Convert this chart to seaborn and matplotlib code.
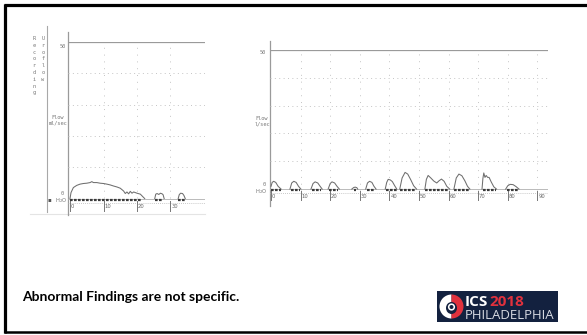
import numpy as np
import pandas as pd
import matplotlib
matplotlib.use('Agg')
import matplotlib.pyplot as plt
import seaborn as sns
from matplotlib.patches import Rectangle, Wedge, Circle, Ellipse

#%% Data

# left trace: one long void followed by two small dribbles (t in s, flow in ml/s)
left_t = [0, 0.3, 1, 2, 3, 4, 5, 6, 6.5, 7, 8, 9, 10, 11, 12, 13, 14, 15, 16,
          16.5, 17, 17.5, 18, 18.5, 19, 20, 21, 22, 22.3,
          25.3, 25.6, 26, 26.5, 27, 27.5, 27.8, 28.1,
          32.3, 32.6, 33, 33.6, 34, 34.4]
left_flow = [0, 1.9, 3.5, 4.2, 4.6, 4.8, 4.9, 5.1, 5.4, 5.1, 5.1, 4.9, 4.8, 4.6, 4.35, 4.0, 3.7, 3.3, 2.4,
             1.6, 2.1, 1.5, 2.3, 1.7, 2.1, 1.7, 1.4, 0.3, 0,
             0, 1.4, 1.6, 1.3, 1.7, 1.5, 1.2, 0,
             0, 1.2, 1.7, 1.6, 1.0, 0]
left_seg = [0] * 29 + [1] * 8 + [2] * 6
left_marks = [(0, 21.5), (25.3, 27.8), (32.3, 34.4)]
left_ticks = [0, 10, 20, 30]

# right trace: intermittent stream, twelve separate spurts
right_t = [0, 0.4, 0.9, 1.6, 2.4, 3.4,
           6.4, 7, 7.7, 8.5, 9.3, 10.1,
           13.5, 14.2, 14.9, 15.8, 16.6, 17.3,
           19.3, 20, 20.6, 21.5, 22.3, 23.1,
           27.3, 28, 28.5, 29, 29.3,
           32, 32.6, 33.3, 34.1, 34.8, 35.5,
           38.6, 39.1, 39.6, 40.3, 41, 41.8, 42.5,
           43.5, 44.3, 45.3, 46.2, 47.2, 48.2, 49.2,
           52, 52.5, 53.1, 54, 55, 56, 56.8, 57.6, 58.5, 59.4, 60.4,
           61.8, 62.6, 63.5, 64.5, 65.5, 66.4, 67.2,
           71.3, 71.6, 71.9, 72.3, 72.7, 73.2, 73.7, 74.4, 75.3, 76.2,
           79.3, 80, 80.8, 81.8, 82.8, 83.8]
right_flow = [1.0, 2.4, 2.8, 2.4, 1.0, 0,
              0, 2.2, 2.8, 2.4, 1.0, 0,
              0, 2.0, 2.6, 2.2, 1.0, 0,
              0, 2.0, 2.6, 2.2, 1.0, 0,
              0, 0.6, 0.7, 0.5, 0,
              0, 2.2, 2.8, 2.4, 1.0, 0,
              0, 2.4, 3.5, 3.3, 2.7, 1.2, 0,
              0, 4.0, 6.0, 5.4, 3.4, 1.2, 0,
              0, 3.5, 4.9, 4.0, 2.9, 2.2, 3.0, 3.6, 2.8, 1.0, 0,
              0, 4.0, 5.4, 4.8, 3.0, 1.0, 0,
              0, 3.8, 5.8, 4.2, 4.9, 4.2, 4.2, 2.6, 0.8, 0,
              0, 1.2, 1.7, 1.6, 0.9, 0]
right_seg = ([0] * 6 + [1] * 6 + [2] * 6 + [3] * 6 + [4] * 5 + [5] * 6 + [6] * 7 + [7] * 7
             + [8] * 11 + [9] * 7 + [10] * 10 + [11] * 6)
right_marks = [(0, 3.5), (6.6, 9.8), (13.8, 16.8), (19.7, 22.6), (28.2, 28.8), (32.4, 35),
               (38.7, 42.5), (43.6, 49), (52, 60.3), (62, 67), (71.5, 76), (79.6, 83.5)]
right_ticks = [0, 10, 20, 30, 40, 50, 60, 70, 80, 90]

caption = 'Abnormal Findings are not specific.'

#%% Figure

W, H = 587, 335
fig = plt.figure(figsize=(W / 100, H / 100), dpi=100)
fig.patch.set_facecolor('white')

bg = fig.add_axes([0, 0, 1, 1])
bg.set_xlim(0, W)
bg.set_ylim(H, 0)
bg.axis('off')

# slide frame: left, top and bottom edges only (right edge is cut off)
bg.plot([4.5, 4.5], [3.5, 333], color='black', linewidth=2.3, solid_capstyle='butt')
bg.plot([3.5, W], [4.5, 4.5], color='black', linewidth=2.3, solid_capstyle='butt')
bg.plot([3.5, W], [332, 332], color='black', linewidth=1.8, solid_capstyle='butt')


def px_axes(x0, x1, y0, y1):
    return fig.add_axes([x0 / W, 1 - y1 / H, (x1 - x0) / W, (y1 - y0) / H])


def draw_trace(ax, t, flow, seg, marks, ticks, xlim, ylim, grid_x):
    ax.set_xlim(xlim)
    ax.set_ylim(ylim)
    ax.set_facecolor('none')
    for s in ax.spines.values():
        s.set_visible(False)
    ax.set_xticks([])
    ax.set_yticks([])
    grey = '#9a9a9a'
    dots = '#c4c4c4'
    # frame lines
    ax.axvline(xlim[0], ymin=-0.02, ymax=1.06, color=grey, linewidth=0.9, clip_on=False)
    ax.axhline(50, color=grey, linewidth=0.9)
    for g in [10, 20, 30, 40]:
        ax.axhline(g, color=dots, linewidth=0.7, linestyle=(0, (1, 3.5)))
    for g in grid_x:
        ax.axvline(g, ymin=0.08, ymax=0.98, color=dots, linewidth=0.7, linestyle=(0, (1, 6)))
    ax.axhline(0, color='#b0b0b0', linewidth=0.6)
    # time axis with dotted minor ticks
    xa = -1.4
    ax.axhline(xa, color='#b8b8b8', linewidth=0.6, linestyle=(0, (1, 1.5)))
    for tk in ticks:
        ax.plot([tk, tk], [xa - 2.5, xa + 0.6], color='#777777', linewidth=0.7)
        ax.text(tk + 0.3, xa - 1.3, str(tk), fontsize=3.8, color='#666666',
                ha='left', va='center')
    # voiding event markers
    for a, b in marks:
        ax.plot([a, b], [-0.35, -0.35], color='#3a3a3a', linewidth=1.6,
                linestyle=(0, (1.2, 0.6)), solid_capstyle='butt')
    df = pd.DataFrame({'t': t, 'flow': flow, 'seg': seg})
    sns.lineplot(data=df, x='t', y='flow', units='seg', estimator=None, ax=ax,
                 color='#6e6e6e', linewidth=0.75, legend=False)
    ax.set_xlabel('')
    ax.set_ylabel('')


# left chart
axl = px_axes(68, 205, 42, 212)
draw_trace(axl, left_t, left_flow, left_seg, left_marks, left_ticks,
           (-0.6, 40.3), (-4.3, 50), [10, 20, 30])
axl.scatter([29.5, 36], [1.0, 1.0], s=0.3, color='#888888', marker='s', linewidths=0)

# right chart
axr = px_axes(270, 548, 50, 203)
draw_trace(axr, right_t, right_flow, right_seg, right_marks, right_ticks,
           (-0.34, 93.6), (-5.0, 50), [10, 20, 30, 40, 50, 60, 70, 80, 90])

# scan labels
lab = dict(fontsize=3.8, color='#777777', family='DejaVu Sans Mono')
bg.plot([47, 47], [26, 212], color='#a8a8a8', linewidth=0.8)
bg.plot([30, 205], [214, 214], color='#e4e4e4', linewidth=0.8)
bg.text(34, 36, '\n'.join('Recording'), va='top', ha='center', linespacing=1.45, **lab)
bg.text(43, 36, '\n'.join('Uroflow'), va='top', ha='center', linespacing=1.45, **lab)
bg.text(63, 46, '50', ha='center', va='center', **lab)
bg.text(58, 120, 'Flow\nml/sec', ha='center', va='center', linespacing=1.1, **lab)
bg.text(62, 193.5, '0', ha='center', va='center', **lab)
bg.text(61, 200.5, 'H$_2$O', ha='center', va='center', fontsize=3.8, color='#777777')
bg.text(49, 200, '\u25aa', ha='center', va='center', fontsize=4, color='#555555')

bg.text(263, 53, '50', ha='center', va='center', **lab)
bg.text(262, 121, 'Flow\nl/sec', ha='center', va='center', linespacing=1.1, **lab)
bg.text(264, 184.5, '0', ha='center', va='center', **lab)
bg.text(261, 191.5, 'H$_2$O', ha='center', va='center', fontsize=3.8, color='#777777')

# caption
bg.text(22, 297, caption, fontsize=10, fontweight='bold', family='Lato',
        ha='left', va='center', color='black')

# ICS 2018 logo
bg.add_patch(Rectangle((437, 291), 121, 31, facecolor='#13213f', edgecolor='none'))
bg.add_patch(Wedge((451.5, 306.5), 12, 90, 270, facecolor='white', edgecolor='none'))
bg.add_patch(Wedge((451.5, 306.5), 12, -90, 90, facecolor='#e0313d', edgecolor='none'))
bg.add_patch(Ellipse((451.5, 308), 11, 12, facecolor='#13213f', edgecolor='none'))
bg.add_patch(Circle((451.5, 307), 3.6, facecolor='white', edgecolor='none'))
bg.add_patch(Circle((451.5, 307), 2.0, facecolor='#13213f', edgecolor='none'))
bg.text(465, 302.5, 'ICS', fontsize=11, fontweight='bold', family='Open Sans',
        color='white', ha='left', va='center')
bg.text(489, 302.5, '2018', fontsize=11, fontweight='bold', family='Open Sans',
        color='#e0313d', ha='left', va='center')
bg.text(465, 315.5, 'PHILADELPHIA', fontsize=9.5, family='Open Sans',
        color='#d7dae2', ha='left', va='center')

fig.savefig('out.png', dpi=100)
